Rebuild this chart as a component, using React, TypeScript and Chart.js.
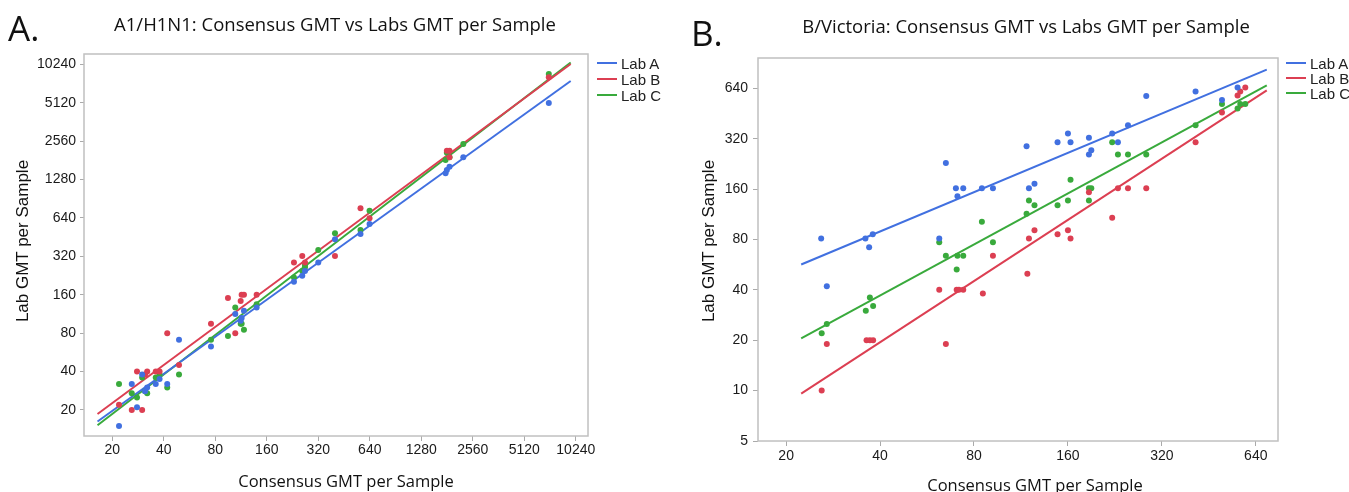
import React, { useEffect, useRef } from "react";
import { Chart, registerables } from "chart.js";

Chart.register(...registerables);

// ---------- colours ----------
const COLOR_A = "#4170e0";
const COLOR_B = "#dc3f52";
const COLOR_C = "#39aa3c";

// ---------- Panel A: A1/H1N1 ----------
const h1Ticks = [20, 40, 80, 160, 320, 640, 1280, 2560, 5120, 10240];

const h1LabAX = [21.9, 26.0, 27.9, 29.9, 31.1, 32.0, 35.9, 37.8, 41.9, 49.1, 75.5, 104.7, 112.6, 114.1, 117.7, 139.6, 230.7, 258, 267.6, 320, 400.6, 564.9, 638, 1775, 1806, 1871, 2253, 7122];
const h1LabAY = [15, 32, 21, 38, 28, 30, 32, 35, 32, 71, 63, 113, 100, 105, 120, 127, 202, 226, 246, 286, 436, 479, 574, 1434, 1522, 1616, 1915, 5102];

const h1LabBX = [21.9, 26.0, 29.9, 27.9, 31.1, 32.0, 35.9, 37.8, 41.9, 49.1, 75.5, 94.9, 104.7, 112.6, 114.1, 117.7, 139.6, 230.7, 258, 267.6, 400.6, 564.9, 638, 1806, 1871, 1871, 7122];
const h1LabBY = [22, 20, 20, 40, 38, 40, 40, 40, 80, 45, 95, 151, 80, 143, 160, 160, 160, 286, 322, 286, 322, 763, 637, 2157, 2157, 1915, 8114];

const h1LabCX = [21.9, 26.0, 27.9, 29.9, 31.1, 32.0, 35.9, 37.8, 41.9, 49.1, 75.5, 94.9, 104.7, 112.6, 114.1, 117.7, 139.6, 230.7, 258, 267.6, 267.6, 320, 400.6, 564.9, 638, 1775, 1806, 1871, 2253, 7122];
const h1LabCY = [32, 27, 25, 36, 28, 27, 36, 38, 30, 38, 71, 76, 127, 95, 95, 85, 135, 219, 246, 263, 274, 359, 486, 515, 730, 1823, 2081, 1915, 2434, 8610];

// fitted lines (endpoints)
const h1FitX = [16.4, 9560];
const h1FitA = [16.25, 7590];
const h1FitB = [18.6, 10312];
const h1FitC = [15.16, 10597];

// ---------- Panel B: B/Victoria ----------
const bvXTicks = [20, 40, 80, 160, 320, 640];
const bvYTicks = [5, 10, 20, 40, 80, 160, 320, 640];

const bvLabAX = [25.9, 27.0, 35.9, 37.9, 36.9, 61.9, 65.0, 70.0, 73.9, 70.8, 84.8, 92.0, 117.9, 120.0, 125.0, 148.2, 160, 163.1, 186.8, 190.1, 186.8, 221.8, 231.4, 249.2, 285.2, 410.4, 498.7, 559.5];
const bvLabAY = [81, 42, 81, 86, 72, 81, 229, 162, 162, 145, 162, 162, 289, 162, 172, 305, 344, 305, 324, 273, 258, 344, 305, 385, 576, 612, 546, 647];

const bvLabBX = [26.0, 27.0, 36.2, 37.1, 38.0, 61.9, 70.4, 71.6, 73.9, 65.0, 85.4, 92.0, 118.6, 120.0, 125.0, 148.2, 160, 163.1, 186.8, 221.8, 231.4, 249.2, 285.2, 410.4, 498.7, 559.5, 570.8, 592.3];
const bvLabBY = [10, 19, 20, 20, 20, 40, 40, 40, 40, 19, 38, 64, 50, 81, 91, 86, 91, 81, 153, 108, 162, 162, 162, 305, 459, 580, 612, 647];

const bvLabCX = [26.0, 27.0, 36.0, 37.1, 38.0, 61.9, 65.0, 70.4, 70.8, 73.9, 84.8, 92.0, 117.9, 120.0, 125.0, 148.2, 160, 163.1, 186.8, 190.1, 186.8, 221.8, 231.4, 249.2, 285.2, 410.4, 498.7, 559.5, 570.8, 592.3];
const bvLabCY = [22, 25, 30, 36, 32, 77, 64, 53, 64, 64, 102, 77, 114, 137, 128, 128, 137, 182, 162, 162, 137, 305, 258, 258, 258, 385, 516, 485, 516, 516];

const bvFitX = [22.35, 694];
const bvFitA = [56.7, 829];
const bvFitB = [9.6, 622];
const bvFitC = [20.5, 668];

const labNames = ["Lab A", "Lab B", "Lab C"];
const labColors = [COLOR_A, COLOR_B, COLOR_C];

// ---------- helpers ----------
const zip = (xs: number[], ys: number[]) => xs.map((x, i) => ({ x, y: ys[i] }));

const framePlugin = {
  id: "frame",
  beforeDatasetsDraw(chart: any) {
    const { ctx, chartArea: a } = chart;
    ctx.save();
    ctx.strokeStyle = "#c0c0c0";
    ctx.lineWidth = 1.5;
    ctx.strokeRect(a.left, a.top, a.right - a.left, a.bottom - a.top);
    ctx.restore();
  },
};

type PanelProps = {
  left: number;
  width: number;
  padTop: number;
  padRight: number;
  yWidth: number;
  xHeight: number;
  xMin: number;
  xMax: number;
  yMin: number;
  yMax: number;
  xTicks: number[];
  yTicks: number[];
  xTickLen: number;
  xTickPad: number;
  yTickLen: number;
  yTickPad: number;
  points: { xs: number[]; ys: number[] }[];
  fitX: number[];
  fits: number[][];
};

function Panel(p: PanelProps) {
  const ref = useRef<HTMLCanvasElement | null>(null);
  useEffect(() => {
    if (!ref.current) return;
    const tickFont = { family: "'Liberation Sans', Arial, sans-serif", size: 14 };
    const pointSets = p.points.map((s, i) => ({
      label: labNames[i],
      data: zip(s.xs, s.ys),
      backgroundColor: labColors[i],
      borderWidth: 0,
      pointRadius: 3,
      pointHoverRadius: 3,
      showLine: false,
    }));
    const lineSets = p.fits.map((f, i) => ({
      label: labNames[i] + " fit",
      data: zip(p.fitX, f),
      borderColor: labColors[i],
      borderWidth: 2,
      pointRadius: 0,
      showLine: true,
      fill: false,
    }));
    const chart = new Chart(ref.current, {
      type: "scatter",
      data: { datasets: [...pointSets, ...lineSets] as any },
      options: {
        animation: false,
        responsive: false,
        maintainAspectRatio: false,
        events: [],
        layout: { padding: { top: p.padTop, right: p.padRight, left: 0, bottom: 0 } },
        plugins: { legend: { display: false }, tooltip: { enabled: false }, title: { display: false } },
        scales: {
          x: {
            type: "logarithmic",
            position: "bottom",
            min: p.xMin,
            max: p.xMax,
            afterBuildTicks: (s: any) => {
              s.ticks = p.xTicks.map((v) => ({ value: v }));
            },
            afterFit: (s: any) => {
              s.height = p.xHeight;
            },
            ticks: {
              autoSkip: false,
              maxRotation: 0,
              minRotation: 0,
              padding: p.xTickPad,
              color: "#1a1a1a",
              font: tickFont,
              callback: (v: any) => String(v),
            },
            grid: { display: true, drawOnChartArea: false, drawTicks: true, tickLength: p.xTickLen, color: "#aaaaaa", lineWidth: 1 },
            border: { display: false },
          },
          y: {
            type: "logarithmic",
            position: "left",
            min: p.yMin,
            max: p.yMax,
            afterBuildTicks: (s: any) => {
              s.ticks = p.yTicks.map((v) => ({ value: v }));
            },
            afterFit: (s: any) => {
              s.width = p.yWidth;
            },
            ticks: {
              autoSkip: false,
              padding: p.yTickPad,
              color: "#1a1a1a",
              font: tickFont,
              callback: (v: any) => String(v),
            },
            grid: { display: true, drawOnChartArea: false, drawTicks: true, tickLength: p.yTickLen, color: "#aaaaaa", lineWidth: 1 },
            border: { display: false },
          },
        },
      } as any,
      plugins: [framePlugin],
    });
    return () => chart.destroy();
  }, []);
  return (
    <canvas
      ref={ref}
      width={p.width}
      height={492}
      style={{ position: "absolute", left: p.left, top: 0, width: p.width, height: 492, display: "block" }}
    />
  );
}

const openSans = "'Open Sans', 'Noto Sans', sans-serif";
const arial = "'Liberation Sans', Arial, sans-serif";

function Text(props: { x: number; y: number; size: number; family: string; center?: boolean; rotate?: boolean; children: React.ReactNode }) {
  const { x, y, size, family, center, rotate } = props;
  const style: React.CSSProperties = {
    position: "absolute",
    left: x,
    top: y,
    fontSize: size,
    fontFamily: family,
    lineHeight: 1,
    whiteSpace: "nowrap",
    color: "#111",
  };
  if (rotate) style.transform = "translate(-50%, -50%) rotate(-90deg)";
  else if (center) style.transform = "translateX(-50%)";
  return <div style={style}>{props.children}</div>;
}

function Legend(props: { x: number; rows: number[] }) {
  return (
    <>
      {labNames.map((n, i) => (
        <React.Fragment key={n}>
          <div style={{ position: "absolute", left: props.x, top: props.rows[i] - 1, width: 20, height: 2, background: labColors[i] }} />
          <div
            style={{
              position: "absolute",
              left: props.x + 24,
              top: props.rows[i] - 7.5,
              fontSize: 15,
              lineHeight: 1,
              fontFamily: arial,
              color: "#222",
              whiteSpace: "nowrap",
            }}
          >
            {n}
          </div>
        </React.Fragment>
      ))}
    </>
  );
}

export default function App() {
  return (
    <div style={{ position: "absolute", left: 0, top: 0, width: 1349, height: 492, overflow: "hidden", background: "#fff" }}>
      <Panel
        left={0}
        width={680}
        padTop={54}
        padRight={92}
        yWidth={84}
        xHeight={56}
        xMin={13.67}
        xMax={12070}
        yMin={12.5}
        yMax={12356}
        xTicks={h1Ticks}
        yTicks={h1Ticks}
        xTickLen={5}
        xTickPad={1}
        yTickLen={4}
        yTickPad={4}
        points={[
          { xs: h1LabAX, ys: h1LabAY },
          { xs: h1LabBX, ys: h1LabBY },
          { xs: h1LabCX, ys: h1LabCY },
        ]}
        fitX={h1FitX}
        fits={[h1FitA, h1FitB, h1FitC]}
      />
      <Panel
        left={680}
        width={669}
        padTop={58}
        padRight={71}
        yWidth={78}
        xHeight={51}
        xMin={16.25}
        xMax={754}
        yMin={5}
        yMax={972}
        xTicks={bvXTicks}
        yTicks={bvYTicks}
        xTickLen={5}
        xTickPad={2}
        yTickLen={5}
        yTickPad={5}
        points={[
          { xs: bvLabAX, ys: bvLabAY },
          { xs: bvLabBX, ys: bvLabBY },
          { xs: bvLabCX, ys: bvLabCY },
        ]}
        fitX={bvFitX}
        fits={[bvFitA, bvFitB, bvFitC]}
      />

      <Text x={8} y={10} size={35} family={openSans}>A.</Text>
      <Text x={691} y={15} size={35} family={openSans}>B.</Text>

      <Text x={335} y={14.5} size={18.5} family={openSans} center>
        A1/H1N1: Consensus GMT vs Labs GMT per Sample
      </Text>
      <Text x={1026} y={16.5} size={18.5} family={openSans} center>
        B/Victoria: Consensus GMT vs Labs GMT per Sample
      </Text>

      <Text x={22} y={241} size={17} family={arial} rotate>
        Lab GMT per Sample
      </Text>
      <Text x={708} y={241} size={17} family={arial} rotate>
        Lab GMT per Sample
      </Text>

      <Text x={346} y={473} size={16.5} family={openSans} center>
        Consensus GMT per Sample
      </Text>
      <Text x={1035} y={477} size={16.5} family={openSans} center>
        Consensus GMT per Sample
      </Text>

      <Legend x={597} rows={[63, 79, 95]} />
      <Legend x={1286} rows={[63, 78, 93]} />
    </div>
  );
}
